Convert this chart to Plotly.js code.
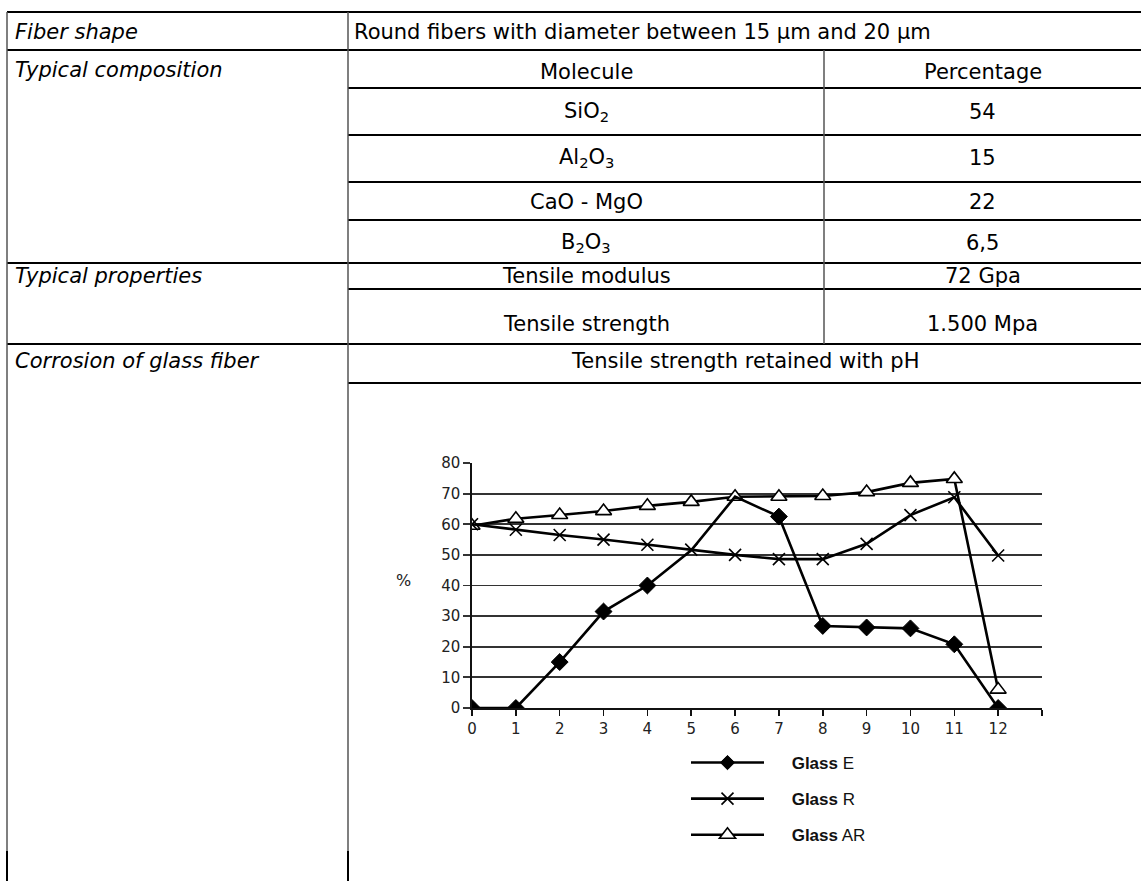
<!DOCTYPE html>
<html><head><meta charset="utf-8">
<script src="https://cdn.plot.ly/plotly-3.0.1.min.js"></script>
<style>html,body{margin:0;padding:0;background:#fff;overflow:hidden}#chart{width:1141px;height:881px}</style>
</head><body><div id="chart"></div>
<script>
// ---------- data ----------
const pH = [0,1,2,3,4,5,6,7,8,9,10,11,12];
const glassE  = [0, 0, 15, 31.5, 40, 51.5, 69, 62.5, 26.8, 26.3, 26, 20.8, 0];
const glassR  = [60, 58.2, 56.5, 55, 53.3, 51.7, 50, 48.6, 48.6, 53.6, 63, 68.8, 49.8];
const glassAR = [59.5, 61.8, 63, 64.3, 66, 67.3, 69, 69, 69.2, 70.5, 73.5, 74.8, 6];
const seriesNames = ['<b>Glass</b> E', '<b>Glass</b> R', '<b>Glass</b> AR'];
const xTickVals = [0,1,2,3,4,5,6,7,8,9,10,11,12,13];
const xTickText = ['0','1','2','3','4','5','6','7','8','9','10','11','12',' '];
const yTickVals = [0,10,20,30,40,50,60,70,80];
const xAxisLabel = '<i>p</i>H';
const yAxisLabel = '%';

const rowLabels = ['Fiber shape', 'Typical composition', 'Typical properties', 'Corrosion of glass fiber'];
const fiberShape = 'Round fibers with diameter between 15 µm and 20 µm';
const compHeader = ['Molecule', 'Percentage'];
const molecules = ['SiO<sub>2</sub>', 'Al<sub>2</sub>O<sub>3</sub>', 'CaO - MgO', 'B<sub>2</sub>O<sub>3</sub>'];
const percentages = ['54', '15', '22', '6,5'];
const properties = ['Tensile modulus', 'Tensile strength'];
const propertyValues = ['72 Gpa', '1.500 Mpa'];
const chartCaption = 'Tensile strength retained with pH';

// ---------- geometry ----------
const W = 1141, H = 881;
const px = x => x / W;
const py = y => 1 - y / H;

const TFAM = '"DejaVu Sans", Verdana, sans-serif';
const tFont = {family: TFAM, size: 21, color: '#000'};

const colL = 7, colM = 348, colI = 824, colR = 1141;
const cMol = (colM + colI) / 2, cPct = (colI + colR) / 2, cWide = (colM + colR) / 2;

const shapes = [];
function hline(y, x0, x1, w, c) { shapes.push({type:'line', xref:'paper', yref:'paper', x0:px(x0), x1:px(x1), y0:py(y), y1:py(y), line:{color:c||'#000', width:w||2}}); }
function vline(x, y0, y1, w, c) { shapes.push({type:'line', xref:'paper', yref:'paper', x0:px(x), x1:px(x), y0:py(y0), y1:py(y1), line:{color:c||'#555', width:w||1.5}}); }
hline(12, colL, colR); hline(50, colL, colR);
hline(88, colM, colR); hline(135, colM, colR); hline(182, colM, colR); hline(220, colM, colR);
hline(263, colL, colR); hline(289, colM, colR); hline(344, colL, colR); hline(383, colM, colR);
vline(colL, 12, 851); vline(colM, 12, 851); vline(colI, 50, 344);
vline(colL, 851, 881, 2, '#000'); vline(colM, 851, 881, 2, '#000');

const ann = [];
function txt(x, y, s, anchor, italic) {
  ann.push({xref:'paper', yref:'paper', x:px(x), y:py(y), text: italic ? '<i>'+s+'</i>' : s,
    showarrow:false, xanchor:anchor, yanchor:'middle', font:tFont});
}
const rowY = [32, 70, 276, 361];
rowLabels.forEach((s, i) => txt(13, rowY[i], s, 'left', true));
txt(352, 32, fiberShape, 'left');
txt(cMol, 72, compHeader[0], 'center'); txt(cPct, 72, compHeader[1], 'center');
const molY = [112, 158, 202, 243];
molecules.forEach((s, i) => { txt(cMol, molY[i], s, 'center'); txt(cPct, molY[i], percentages[i], 'center'); });
const propY = [276, 324];
properties.forEach((s, i) => { txt(cMol, propY[i], s, 'center'); txt(cPct, propY[i], propertyValues[i], 'center'); });
txt(cWide, 361, chartCaption, 'center');

// axis labels
const AFAM = '"DejaVu Sans", "Liberation Sans", sans-serif';
ann.push({xref:'x', yref:'paper', x:13.1, y:py(729), text:xAxisLabel, showarrow:false, xanchor:'left', yanchor:'middle',
  font:{family:AFAM, size:16, color:'#222'}});
ann.push({xref:'paper', yref:'paper', x:px(403), y:py(580), text:yAxisLabel, showarrow:false, xanchor:'center', yanchor:'middle',
  font:{family:AFAM, size:16, color:'#222'}});

// ---------- traces ----------
const lineStyle = {color:'#000', width:2.6};
const gap = '\u2003\u2004';
const traces = [
  {x:pH, y:glassE, name:gap + seriesNames[0], legendgroup:'E', type:'scatter', mode:'lines+markers', line:lineStyle,
   marker:{symbol:'diamond', opacity:1, size:pH.map(v => (v === 5 || v === 6) ? 0 : 13), color:'#000', line:{color:'#000', width:1}}},
  {x:pH, y:glassR, name:gap + seriesNames[1], legendgroup:'R', type:'scatter', mode:'lines+markers', line:lineStyle,
   marker:{symbol:'x-thin', opacity:1, size:12, color:'#000', line:{color:'#000', width:1.6}}},
  {x:pH, y:glassAR, name:gap + seriesNames[2], legendgroup:'AR', type:'scatter', mode:'lines+markers', line:lineStyle,
   marker:{symbol:'triangle-up', opacity:1, size:14, color:'#fff', line:{color:'#000', width:1.6}}}
];
traces[0].legendrank = 1; traces[1].legendrank = 2; traces[2].legendrank = 3;
const drawTraces = [traces[2], traces[1], traces[0]];

const layout = {
  width:W, height:H, margin:{l:0, r:0, t:0, b:0}, paper_bgcolor:'#fff', plot_bgcolor:'rgba(0,0,0,0)',
  showlegend:true,
  xaxis:{domain:[px(472), px(1042)], range:[0, 13], tickvals:xTickVals, ticktext:xTickText,
    showline:true, linecolor:'#111', linewidth:1.6, ticks:'outside', ticklen:6, tickwidth:1.6, tickcolor:'#111',
    showgrid:false, zeroline:false, tickfont:{family:AFAM, size:15, color:'#222'}, fixedrange:true},
  yaxis:{domain:[py(708), py(463)], range:[0, 80], tickvals:yTickVals,
    showline:true, linecolor:'#111', linewidth:1.6, ticks:'outside', ticklen:7, tickwidth:1.8, tickcolor:'#333',
    showgrid:true, gridcolor:'#333', gridwidth:1.8, zeroline:false, tickfont:{family:AFAM, size:15, color:'#222'}, fixedrange:true},
  legend:{x:px(686), y:py(745), xanchor:'left', yanchor:'top', bgcolor:'rgba(0,0,0,0)', borderwidth:0,
    itemwidth:73, traceorder:'grouped', tracegroupgap:11,
    font:{family:'"Liberation Sans", Arial, sans-serif', size:17, color:'#111'}},
  shapes:shapes, annotations:ann
};
Plotly.newPlot('chart', drawTraces, layout, {staticPlot:true, displayModeBar:false});
</script></body></html>
